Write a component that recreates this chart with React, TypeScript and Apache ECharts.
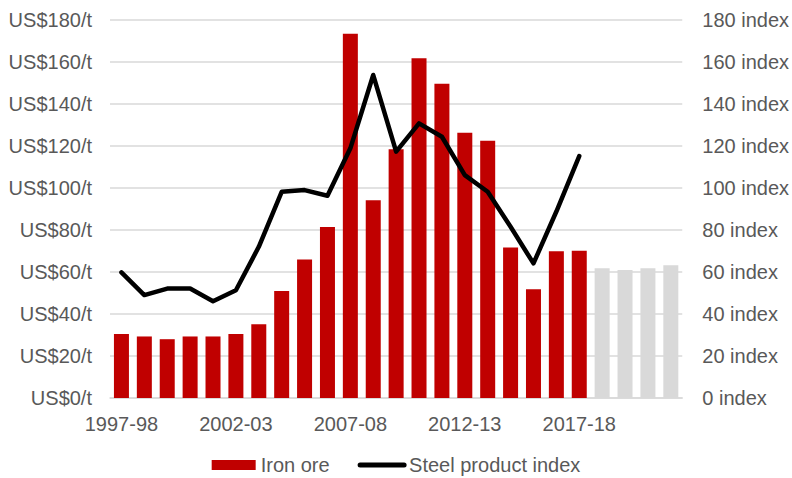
import React, { useEffect, useRef } from "react";
import * as echarts from "echarts";

const categories = [
  "1997-98", "1998-99", "1999-00", "2000-01", "2001-02", "2002-03", "2003-04",
  "2004-05", "2005-06", "2006-07", "2007-08", "2008-09", "2009-10", "2010-11",
  "2011-12", "2012-13", "2013-14", "2014-15", "2015-16", "2016-17", "2017-18",
  "2018-19", "2019-20", "2020-21", "2021-22",
];

// Iron ore price, US$/t (actual)
const ironOreActual = [
  30.5, 29.3, 28.0, 29.3, 29.3, 30.5, 35.1, 51.0, 66.0, 81.4, 173.4, 94.2,
  118.5, 161.8, 149.7, 126.3, 122.5, 71.7, 51.8, 69.9, 70.1,
];
// Iron ore price, US$/t (forecast)
const ironOreForecast = [61.8, 60.9, 61.8, 63.2];

// Steel product index
const steelIndex = [
  59.8, 49.0, 52.1, 52.1, 46.1, 51.3, 72.0, 98.2, 99.0, 96.3, 118.9, 153.8,
  117.3, 130.8, 124.4, 106.1, 98.2, 81.5, 64.1, 88.8, 115.2,
];

const leftTicks = { min: 0, max: 180, interval: 20 };

export default function App() {
  const ref = useRef<HTMLDivElement>(null);

  useEffect(() => {
    document.body.style.margin = "0";
    if (!ref.current) return;
    const chart = echarts.init(ref.current, undefined, { renderer: "svg" });
    const textColor = "#595959";
    const font = "Liberation Sans, Arial, sans-serif";
    const fontSize = 20;

    const barData = [
      ...ironOreActual.map((v) => ({ value: v, itemStyle: { color: "#c00000" } })),
      ...ironOreForecast.map((v) => ({ value: v, itemStyle: { color: "#d9d9d9" } })),
    ];

    chart.setOption({
      animation: false,
      textStyle: { fontFamily: font },
      grid: { left: 110, right: 107, top: 20, bottom: 80 },
      legend: {
        top: 450,
        left: "center",
        itemGap: 28,
        itemWidth: 44,
        itemHeight: 10,
        textStyle: { color: textColor, fontSize, fontFamily: font },
        data: [
          { name: "Iron ore", icon: "rect", itemStyle: { color: "#c00000" } },
          {
            name: "Steel product index",
            itemStyle: { color: "rgba(0,0,0,0)", borderWidth: 0, opacity: 0 },
            lineStyle: { color: "#000000", width: 5, cap: "round" },
          },
        ],
      },
      xAxis: {
        type: "category",
        data: categories,
        axisTick: { show: false },
        axisLine: { lineStyle: { color: "#d9d9d9", width: 1.5 } },
        axisLabel: {
          interval: 4,
          color: textColor,
          fontSize,
          fontFamily: font,
          margin: 16,
        },
      },
      yAxis: [
        {
          type: "value",
          ...leftTicks,
          axisLabel: {
            formatter: (v: number) => `US$${v}/t`,
            color: textColor,
            fontSize,
            fontFamily: font,
            margin: 18,
          },
          splitLine: { lineStyle: { color: "#d9d9d9", width: 1.5 } },
          axisLine: { show: false },
          axisTick: { show: false },
        },
        {
          type: "value",
          ...leftTicks,
          axisLabel: {
            formatter: (v: number) => `${v} index`,
            color: textColor,
            fontSize,
            fontFamily: font,
            margin: 20,
          },
          splitLine: { show: false },
          axisLine: { show: false },
          axisTick: { show: false },
        },
      ],
      series: [
        {
          name: "Iron ore",
          type: "bar",
          yAxisIndex: 0,
          barWidth: 15,
          itemStyle: { color: "#c00000" },
          data: barData,
        },
        {
          name: "Steel product index",
          type: "line",
          yAxisIndex: 1,
          symbol: "none",
          lineStyle: { color: "#000000", width: 4.5, cap: "round", join: "round" },
          itemStyle: { color: "#000000" },
          data: steelIndex,
        },
      ],
    });
    return () => chart.dispose();
  }, []);

  return <div ref={ref} style={{ width: 792, height: 478 }} />;
}
